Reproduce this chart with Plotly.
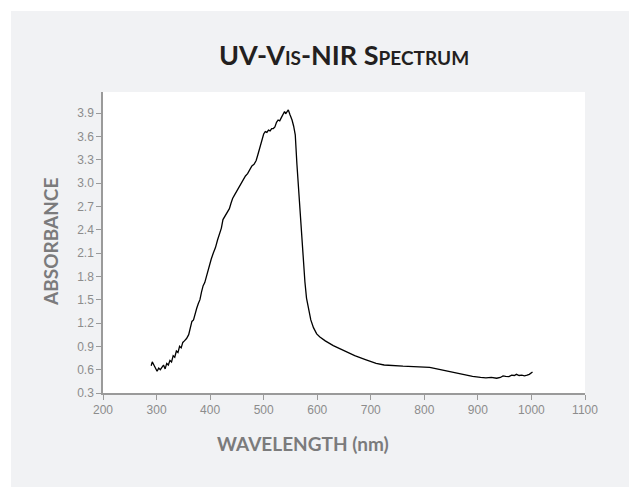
import plotly.graph_objects as go

# spectrum
wavelength = [290, 292, 295, 298, 301, 304, 307, 310, 313, 316, 319, 322, 325, 328, 331, 334,
              337, 340, 343, 346, 349, 352, 356, 360, 363, 366, 369, 372, 375, 378, 381, 384,
              387, 390, 394, 398, 402, 406, 410, 414, 418, 421, 424, 427, 430, 433, 436, 439,
              442, 446, 450, 454, 458, 462, 466, 470, 474, 478, 482, 486, 489, 492, 495, 498,
              500, 503, 506, 509, 512, 515, 518, 521, 524, 527, 530, 533, 536, 539, 541, 544,
              546, 549, 553, 556, 559, 562, 565, 568, 571, 574, 577, 580, 584, 588, 593, 599,
              605, 615, 630, 650, 670, 690, 710, 725, 740, 760, 780, 800, 810, 830, 850, 870,
              890, 905, 915, 925, 935, 942, 947, 952, 958, 963, 968, 972, 977, 982, 987, 992,
              996, 1002]
absorbance = [0.65, 0.70, 0.66, 0.61, 0.58, 0.62, 0.60, 0.63, 0.66, 0.61, 0.68, 0.66, 0.72, 0.70, 0.78, 0.76,
              0.84, 0.82, 0.90, 0.88, 0.95, 0.97, 1.00, 1.05, 1.13, 1.22, 1.24, 1.33, 1.39, 1.45, 1.50, 1.60,
              1.68, 1.72, 1.83, 1.92, 2.02, 2.10, 2.17, 2.27, 2.35, 2.42, 2.53, 2.57, 2.60, 2.63, 2.67, 2.74,
              2.80, 2.85, 2.90, 2.94, 2.99, 3.04, 3.09, 3.12, 3.17, 3.22, 3.24, 3.29, 3.36, 3.43, 3.49, 3.55,
              3.63, 3.66, 3.65, 3.68, 3.67, 3.70, 3.70, 3.72, 3.78, 3.81, 3.80, 3.84, 3.88, 3.92, 3.89, 3.93,
              3.94, 3.88, 3.81, 3.73, 3.62, 3.25, 2.92, 2.60, 2.28, 2.00, 1.73, 1.52, 1.36, 1.24, 1.14, 1.06,
              1.02, 0.97, 0.91, 0.84, 0.78, 0.73, 0.68, 0.66, 0.65, 0.645, 0.64, 0.635, 0.63, 0.60, 0.57, 0.54,
              0.515, 0.50, 0.495, 0.50, 0.49, 0.50, 0.52, 0.515, 0.51, 0.53, 0.525, 0.54, 0.525, 0.53, 0.52, 0.53,
              0.54, 0.57]

x_ticks = list(range(200, 1101, 100))
y_ticks = [0.3, 0.6, 0.9, 1.2, 1.5, 1.8, 2.1, 2.4, 2.7, 3.0, 3.3, 3.6, 3.9]

FW, FH = 629, 487
L, T, W, H = 103, 92, 482, 301
PAD = 11  # white strip left/top of the grey panel

tick_font = dict(family="Liberation Sans, Arial", size=12, color="#8c8c8c")
label_font = dict(family="Lato", size=19, color="#7b7b7c", weight="bold")

fig = go.Figure(go.Scatter(x=wavelength, y=absorbance, mode="lines",
                           line=dict(color="#000000", width=1.3), hoverinfo="skip"))

white_strip = dict(type="rect", xref="paper", yref="paper", layer="below",
                   fillcolor="#ffffff", line=dict(width=0))
fig.update_layout(
    width=FW, height=FH, autosize=False,
    margin=dict(l=L, r=FW - L - W, t=T, b=FH - T - H),
    paper_bgcolor="#f1f2f4", plot_bgcolor="#ffffff",
    showlegend=False,
    shapes=[
        dict(white_strip, x0=-(L + 2) / W, x1=(PAD - L) / W, y0=-(FH - T - H + 2) / H, y1=1 + (T + 2) / H),
        dict(white_strip, x0=-(L + 2) / W, x1=1 + (FW - L - W + 2) / W, y0=1 + (T - PAD) / H, y1=1 + (T + 2) / H),
    ],
    annotations=[
        dict(text="UV-Vis-NIR Spectrum",
             xref="paper", yref="paper", x=0.5, y=(393 - 54) / H, xanchor="center", yanchor="middle",
             showarrow=False,
             font=dict(family="Lato", size=27, color="#231f20", weight="bold", variant="small-caps")),
        dict(text="WAVELENGTH (nm)", xref="paper", yref="paper", x=(303 - 103) / W,
             y=-50 / H, xanchor="center", yanchor="middle", showarrow=False, font=label_font),
        dict(text="ABSORBANCE", xref="paper", yref="paper", x=(50.5 - 103) / W,
             y=0.5, xanchor="center", yanchor="middle", textangle=-90, showarrow=False, font=label_font),
    ],
)
fig.update_xaxes(range=[200, 1100], tickvals=x_ticks, ticks="outside", ticklen=5, tickcolor="#9a9a9a",
                 showline=True, linecolor="#9a9a9a", linewidth=1.5, showgrid=False, zeroline=False,
                 tickfont=tick_font)
fig.update_yaxes(range=[0.3, 4.17], tickvals=y_ticks, tickformat=".1f", ticks="outside", ticklen=5,
                 tickcolor="#9a9a9a", showline=True, linecolor="#9a9a9a", linewidth=1.5, showgrid=False,
                 zeroline=False, tickfont=tick_font)

# drop the browser's default body margin and scrollbars so the figure fills the window
fig.write_html("out.html", config={"displayModeBar": False},
               post_script="document.body.style.margin='0';"
                           "document.documentElement.style.overflow='hidden';"
                           "document.body.style.overflow='hidden';")
